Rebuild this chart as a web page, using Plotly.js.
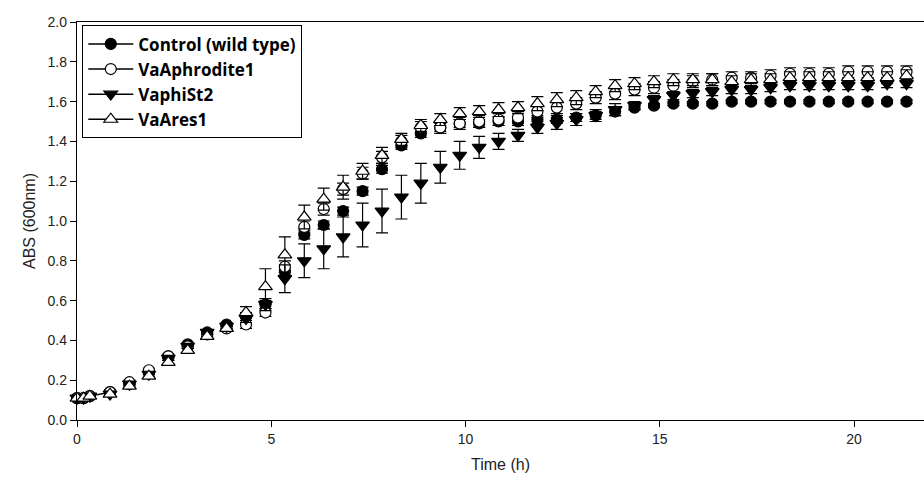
<!DOCTYPE html>
<html>
<head>
<meta charset="utf-8">
<script src="https://cdn.plot.ly/plotly-3.0.1.min.js"></script>
<style>html,body{margin:0;padding:0;background:#fff;}#chart{width:924px;height:477px;}</style>
</head>
<body>
<div id="chart"></div>
<script>
const time = [0, 0.17, 0.33, 0.85, 1.35, 1.85, 2.35, 2.85, 3.35, 3.85, 4.35, 4.85, 5.35, 5.85, 6.35, 6.85, 7.35, 7.85, 8.35, 8.85, 9.35, 9.85, 10.35, 10.85, 11.35, 11.85, 12.35, 12.85, 13.35, 13.85, 14.35, 14.85, 15.35, 15.85, 16.35, 16.85, 17.35, 17.85, 18.35, 18.85, 19.35, 19.85, 20.35, 20.85, 21.35];

const control = [0.11, 0.11, 0.12, 0.14, 0.18, 0.24, 0.32, 0.38, 0.44, 0.48, 0.52, 0.58, 0.75, 0.93, 0.98, 1.05, 1.15, 1.26, 1.38, 1.44, 1.47, 1.49, 1.49, 1.50, 1.50, 1.51, 1.51, 1.52, 1.53, 1.55, 1.57, 1.58, 1.59, 1.59, 1.59, 1.60, 1.60, 1.60, 1.60, 1.60, 1.60, 1.60, 1.60, 1.60, 1.60];
const controlErr = [0.01, 0.01, 0.01, 0.01, 0.01, 0.01, 0.01, 0.01, 0.01, 0.01, 0.02, 0.02, 0.02, 0.02, 0.02, 0.02, 0.02, 0.02, 0.02, 0.02, 0.02, 0.02, 0.02, 0.02, 0.02, 0.02, 0.02, 0.02, 0.02, 0.02, 0.01, 0.01, 0.01, 0.01, 0.01, 0.01, 0.01, 0.01, 0.01, 0.01, 0.01, 0.01, 0.01, 0.01, 0.01];

const aphrodite = [0.11, 0.11, 0.12, 0.14, 0.19, 0.25, 0.32, 0.37, 0.43, 0.46, 0.48, 0.54, 0.77, 0.97, 1.06, 1.16, 1.24, 1.32, 1.40, 1.47, 1.47, 1.49, 1.50, 1.51, 1.52, 1.55, 1.57, 1.59, 1.62, 1.64, 1.66, 1.67, 1.68, 1.70, 1.71, 1.72, 1.72, 1.73, 1.74, 1.74, 1.74, 1.75, 1.75, 1.75, 1.75];
const aphroditeErr = [0.01, 0.01, 0.01, 0.01, 0.01, 0.01, 0.01, 0.01, 0.01, 0.01, 0.02, 0.02, 0.03, 0.03, 0.03, 0.03, 0.03, 0.03, 0.03, 0.03, 0.03, 0.03, 0.03, 0.03, 0.03, 0.03, 0.03, 0.03, 0.03, 0.03, 0.03, 0.03, 0.03, 0.03, 0.03, 0.03, 0.03, 0.03, 0.03, 0.03, 0.03, 0.03, 0.03, 0.03, 0.03];

const phiSt2 = [0.11, 0.11, 0.12, 0.13, 0.18, 0.23, 0.31, 0.37, 0.44, 0.47, 0.51, 0.58, 0.71, 0.80, 0.86, 0.92, 0.98, 1.05, 1.12, 1.19, 1.27, 1.33, 1.37, 1.40, 1.43, 1.47, 1.49, 1.51, 1.53, 1.56, 1.58, 1.61, 1.63, 1.64, 1.65, 1.66, 1.66, 1.67, 1.68, 1.68, 1.68, 1.68, 1.68, 1.69, 1.69];
const phiSt2Err = [0.01, 0.01, 0.01, 0.01, 0.01, 0.01, 0.01, 0.01, 0.01, 0.01, 0.02, 0.03, 0.07, 0.085, 0.10, 0.10, 0.11, 0.11, 0.11, 0.10, 0.08, 0.07, 0.055, 0.04, 0.03, 0.03, 0.03, 0.03, 0.03, 0.03, 0.02, 0.02, 0.02, 0.02, 0.02, 0.02, 0.02, 0.02, 0.02, 0.02, 0.02, 0.02, 0.02, 0.02, 0.02];

const ares = [0.11, 0.11, 0.12, 0.13, 0.17, 0.22, 0.29, 0.35, 0.42, 0.46, 0.54, 0.67, 0.83, 1.02, 1.11, 1.17, 1.25, 1.33, 1.41, 1.48, 1.51, 1.54, 1.55, 1.56, 1.57, 1.59, 1.61, 1.62, 1.65, 1.68, 1.69, 1.70, 1.71, 1.71, 1.71, 1.70, 1.71, 1.71, 1.72, 1.72, 1.72, 1.72, 1.72, 1.72, 1.73];
const aresErr = [0.01, 0.01, 0.01, 0.01, 0.01, 0.01, 0.01, 0.01, 0.01, 0.01, 0.03, 0.09, 0.09, 0.06, 0.055, 0.06, 0.04, 0.04, 0.03, 0.03, 0.03, 0.03, 0.03, 0.035, 0.03, 0.035, 0.035, 0.035, 0.03, 0.03, 0.03, 0.03, 0.03, 0.03, 0.03, 0.03, 0.03, 0.03, 0.03, 0.03, 0.03, 0.03, 0.03, 0.03, 0.03];

const names = ['Control (wild type)', 'VaAphrodite1', 'VaphiSt2', 'VaAres1'];
const xTicks = [0, 5, 10, 15, 20];
const yTicks = [0.0, 0.2, 0.4, 0.6, 0.8, 1.0, 1.2, 1.4, 1.6, 1.8, 2.0];

const series = [
  {y: control, e: controlErr, symbol: 'circle', fill: '#000', size: 11},
  {y: aphrodite, e: aphroditeErr, symbol: 'circle', fill: '#fff', size: 11},
  {y: phiSt2, e: phiSt2Err, symbol: 'triangle-down', fill: '#000', size: 12},
  {y: ares, e: aresErr, symbol: 'triangle-up', fill: '#fff', size: 12}
];

const traces = [];
traces.push({
  x: time.slice(0, 4), y: control.slice(0, 4), mode: 'lines', showlegend: false,
  line: {color: '#000', width: 1.5}, hoverinfo: 'skip', cliponaxis: false
});
series.forEach((s, i) => {
  traces.push({
    x: time, y: s.y, mode: 'markers', name: names[i], showlegend: false, cliponaxis: false,
    marker: {symbol: s.symbol, size: s.size, color: s.fill, line: {color: '#000', width: 1.2}},
    error_y: {type: 'data', array: s.e, visible: true, color: '#000', thickness: 1.2, width: 6}
  });
});
series.forEach((s, i) => {
  traces.push({
    x: [null], y: [null], mode: 'lines+markers', name: names[i], showlegend: true,
    line: {color: '#000', width: 1.5},
    marker: {symbol: s.symbol, size: s.size, color: s.fill, line: {color: '#000', width: 1.2}}
  });
});

const layout = {
  width: 924, height: 477,
  margin: {l: 77, r: 0, t: 22, b: 57, pad: 0},
  paper_bgcolor: '#fff', plot_bgcolor: '#fff',
  font: {family: 'Liberation Sans, Arial, sans-serif', color: '#222', size: 14},
  showlegend: true,
  legend: {
    x: 0.006, y: 0.992, xanchor: 'left', yanchor: 'top',
    bgcolor: '#fff', bordercolor: '#000', borderwidth: 1.2,
    font: {family: 'Open Sans, sans-serif', size: 17, color: '#000', weight: 'bold'},
    itemwidth: 45, tracegroupgap: 0
  },
  xaxis: {
    range: [0, 21.8], tickvals: xTicks, ticktext: xTicks.map(String),
    showgrid: false, zeroline: false, showline: true, linecolor: '#000', linewidth: 1.2,
    mirror: true, ticks: 'outside', ticklen: 6, tickcolor: '#000', tickwidth: 1,
    tickfont: {size: 14, color: '#222'},
    title: {text: 'Time (h)', font: {size: 16, color: '#222'}, standoff: 12}
  },
  yaxis: {
    range: [0, 2.0], tickvals: yTicks, ticktext: yTicks.map(v => v.toFixed(1)),
    showgrid: false, zeroline: false, showline: true, linecolor: '#000', linewidth: 1.2,
    ticks: 'outside', ticklen: 6, tickcolor: '#000', tickwidth: 1,
    tickfont: {size: 14, color: '#222'},
    title: {text: 'ABS (600nm)', font: {size: 16, color: '#222'}, standoff: 8}
  }
};

Plotly.newPlot('chart', traces, layout, {displayModeBar: false, staticPlot: true});
</script>
</body>
</html>
